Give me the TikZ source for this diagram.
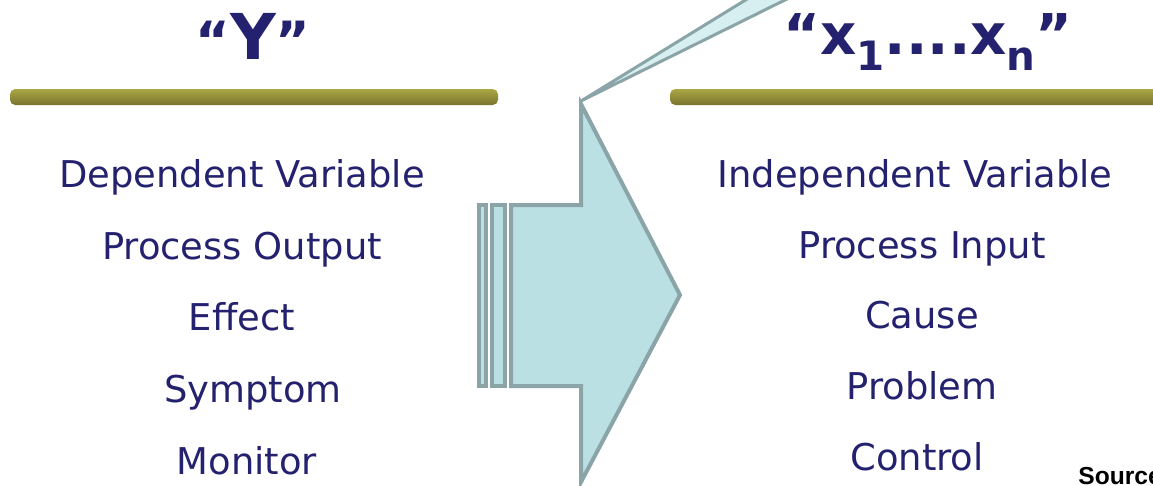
\documentclass[tikz,border=0pt]{standalone}
\usepackage{fontspec}
\setmainfont{DejaVu Sans}
\newfontfamily\srcfont{Liberation Sans}
\definecolor{varNavy}{HTML}{24226E}
\definecolor{arrowEdge}{HTML}{8AA4A7}
\definecolor{arrowFill}{HTML}{BBE0E3}
\definecolor{wedgeFill}{HTML}{D7EFF1}
\definecolor{barTop}{HTML}{ABA845}
\definecolor{barBot}{HTML}{77722E}
\usetikzlibrary{positioning}
\newcommand\idx[1]{\raisebox{-0.3em}{\fontsize{23}{23}\selectfont #1}}

\begin{document}
\begin{tikzpicture}[x=0.02cm, y=-0.02cm,
  node distance=0.76cm,
  item/.style={text=varNavy, font=\fontsize{21}{24}\selectfont, inner sep=0pt,
    text height=0.52cm, text depth=0.14cm},
  heading/.style={text=varNavy, font=\fontsize{36}{40}\selectfont\bfseries, inner sep=0pt},
  bar/.style={top color=barTop, bottom color=barBot, rounded corners=3pt},
  outline/.style={draw=arrowEdge, line width=0.08cm, line join=miter}]
  \useasboundingbox (0,0) rectangle (1153,485);

  % headings and bars
  \node[heading] (y) at (253,36) {{\fontsize{30}{30}\selectfont“}Y{\fontsize{30}{30}\selectfont”}};
  \node[heading, font=\fontsize{32}{36}\selectfont\bfseries] (xs) at (928,42) {“x\idx{1}....x\idx{n}”};
  \shade[bar] (10,89) rectangle (498,105);
  \shade[bar] (670,89) rectangle (1160,105);

  % callout wedge
  \filldraw[outline, line width=0.06cm, fill=wedgeFill] (581,101) -- (752,-4) -- (793,-4) -- cycle;

  % big arrow
  \filldraw[outline, fill=arrowFill] (479,205) rectangle (486,386);
  \filldraw[outline, fill=arrowFill] (492,205) rectangle (505,386);
  \filldraw[outline, fill=arrowFill] (511,205) -- (581,205) -- (581,104) -- (680,295)
    -- (581,482) -- (581,386) -- (511,386) -- cycle;

  % left column
  \node[item] (dep) at (242,178) {Dependent Variable};
  \node[item, below=of dep] (out) {Process Output};
  \node[item, below=of out] (eff) {Effect};
  \node[item, below=of eff, xshift=0.22cm] (sym) {Symptom};
  \node[item, below=of sym, xshift=-0.12cm] (mon) {Monitor};

  % right column
  \begin{scope}[node distance=0.74cm]
  \node[item] (ind) at (915,178) {Independent Variable};
  \node[item, below=of ind, xshift=0.14cm] (inp) {Process Input};
  \node[item, below=of inp] (cau) {Cause};
  \node[item, below=of cau] (pro) {Problem};
  \node[item, below=of pro, xshift=-0.1cm] (con) {Control};
  \end{scope}

  \node[font=\srcfont\bfseries\fontsize{14}{16}\selectfont, anchor=base west, inner sep=0pt]
    (src) at (1078,484) {Source:};
\end{tikzpicture}
\end{document}
